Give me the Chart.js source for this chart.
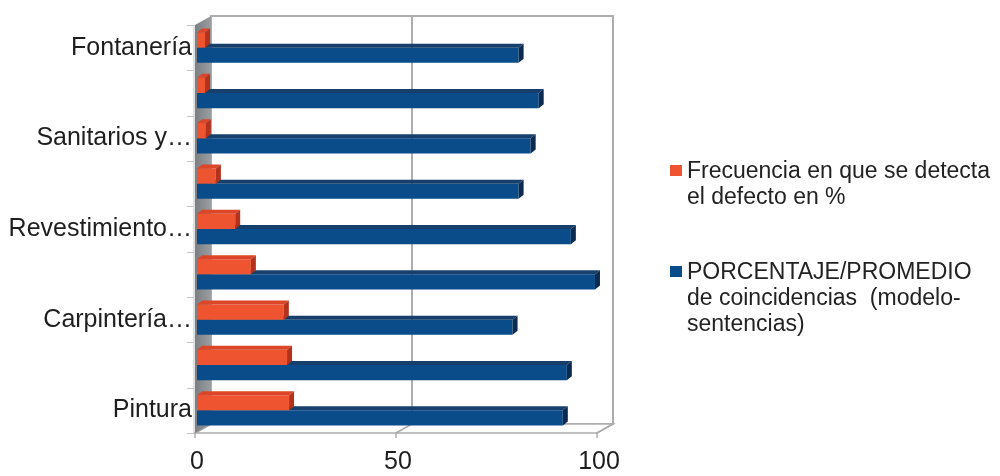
<!DOCTYPE html>
<html>
<head>
<meta charset="utf-8">
<script src="https://cdn.jsdelivr.net/npm/chart.js@4/dist/chart.umd.min.js"></script>
<style>
  body { margin: 0; background: #fff; }
  #wrap { position: relative; width: 1000px; height: 476px; }
  #legend { position: absolute; left: 0; top: 0; font-family: "Liberation Sans", Arial, sans-serif; color: #222; }
  .item { position: absolute; left: 687px; font-size: 23px; line-height: 26px; white-space: pre; }
  .box { position: absolute; left: -17px; top: 8px; width: 12px; height: 11px; }
</style>
</head>
<body>
<div id="wrap">
  <canvas id="chart" width="1000" height="476"></canvas>
  <div id="legend"></div>
</div>
<script>
// top to bottom, as drawn
const categories = ["Fontanería", "", "Sanitarios y…", "", "Revestimiento…", "", "Carpintería…", "", "Pintura"];
const frecuencia = [2, 2, 2.2, 4.7, 9.5, 13.4, 21.6, 22.4, 22.9];
const porcentaje = [80, 85, 83, 80, 93, 99, 78.5, 92, 91];
const xTicks = [0, 50, 100];

const seriesNames = [
  ["Frecuencia en que se detecta", "el defecto en %"],
  ["PORCENTAJE/PROMEDIO", "de coincidencias  (modelo-", "sentencias)"]
];
const frontColors = ["#ef5430", "#0a4c89"];
const topColors = ["#dc4528", "#163f6c"];
const sideColors = ["#b3321d", "#0d2a50"];
const legendTops = [157, 258];

const FONT = "'Liberation Sans', Arial, sans-serif";

// fake 3D: walls, floor, and bar faces
const depth3d = {
  id: "depth3d",
  beforeDatasetsDraw(chart) {
    const ctx = chart.ctx;
    const ca = chart.chartArea;
    const xs = chart.scales.x;
    const dx = 16, dy = -9;
    const fl = ca.left - 2, fr = ca.right - 2, ft = ca.top, fb = ca.bottom;
    const bl = fl + dx, br = fr + dx, bt = ft + dy, bb = fb + dy;
    ctx.save();
    // back wall
    ctx.strokeStyle = "#adadad";
    ctx.lineWidth = 2;
    ctx.strokeRect(bl, bt, br - bl, bb - bt);
    // back grid line
    const x50 = xs.getPixelForValue(50) - 2;
    ctx.beginPath();
    ctx.moveTo(x50 + dx, bt);
    ctx.lineTo(x50 + dx, bb);
    ctx.stroke();
    // floor
    ctx.lineWidth = 1.5;
    ctx.fillStyle = "#fff";
    ctx.beginPath();
    ctx.moveTo(fl, fb); ctx.lineTo(fr, fb); ctx.lineTo(br, bb); ctx.lineTo(bl, bb); ctx.closePath();
    ctx.fill(); ctx.stroke();
    xTicks.forEach(v => {
      const px = xs.getPixelForValue(v) - 2;
      ctx.beginPath();
      ctx.moveTo(px, fb + 5); ctx.lineTo(px, fb); ctx.lineTo(px + dx, bb);
      ctx.stroke();
    });
    // left wall
    const g = ctx.createLinearGradient(fl, 0, bl, 0);
    g.addColorStop(0, "#7b7f83");
    g.addColorStop(1, "#9a9ea1");
    ctx.fillStyle = g;
    ctx.beginPath();
    ctx.moveTo(fl, ft); ctx.lineTo(bl, bt); ctx.lineTo(bl, bb); ctx.lineTo(fl, fb); ctx.closePath();
    ctx.fill();
    ctx.strokeStyle = "#c4c4c4";
    ctx.lineWidth = 1;
    ctx.beginPath();
    ctx.moveTo(fl - 1, ft); ctx.lineTo(fl - 1, fb);
    ctx.stroke();
    // category ticks
    const step = (fb - ft) / categories.length;
    for (let i = 0; i <= categories.length; i++) {
      const y = Math.round(ft + i * step) + 0.5;
      ctx.beginPath();
      ctx.moveTo(fl - 8, y); ctx.lineTo(fl - 1, y);
      ctx.stroke();
    }
    ctx.restore();
  },
  afterDatasetDraw(chart, args) {
    const ctx = chart.ctx;
    const d = 5, e = 4;
    const i = args.index;
    ctx.save();
    args.meta.data.forEach(bar => {
      const left = bar.base, right = bar.x;
      const top = bar.y - bar.height / 2, bottom = bar.y + bar.height / 2;
      ctx.fillStyle = topColors[i];
      ctx.beginPath();
      ctx.moveTo(left, top); ctx.lineTo(left + d, top - e); ctx.lineTo(right + d, top - e); ctx.lineTo(right, top);
      ctx.closePath(); ctx.fill();
      ctx.fillStyle = sideColors[i];
      ctx.beginPath();
      ctx.moveTo(right, top); ctx.lineTo(right + d, top - e); ctx.lineTo(right + d, bottom - e); ctx.lineTo(right, bottom);
      ctx.closePath(); ctx.fill();
    });
    ctx.restore();
  }
};

const data = {
  labels: categories,
  datasets: [
    { label: seriesNames[0].join(" "), data: frecuencia, backgroundColor: frontColors[0] },
    { label: seriesNames[1].join(" "), data: porcentaje, backgroundColor: frontColors[1] }
  ]
};

new Chart(document.getElementById("chart"), {
  type: "bar",
  data: data,
  options: {
    indexAxis: "y",
    responsive: false,
    animation: false,
    layout: { padding: { top: 25, right: 401, left: 0, bottom: 0 } },
    datasets: { bar: { categoryPercentage: 0.67, barPercentage: 1 } },
    plugins: { legend: { display: false }, tooltip: { enabled: false } },
    scales: {
      x: {
        min: 0, max: 100,
        afterBuildTicks: s => { s.ticks = xTicks.map(v => ({ value: v })); },
        grid: { display: false, drawTicks: false },
        border: { display: false },
        ticks: { padding: 14, color: "#1e1e1e", font: { family: FONT, size: 25 }, maxRotation: 0 },
        afterFit: s => { s.height = 43; }
      },
      y: {
        grid: { display: false, drawTicks: false },
        border: { display: false },
        ticks: { autoSkip: false, padding: 5, color: "#1e1e1e", font: { family: FONT, size: 25 } },
        afterFit: s => { s.width = 197; }
      }
    }
  },
  plugins: [depth3d]
});

// legend
const legend = document.getElementById("legend");
seriesNames.forEach((lines, i) => {
  const item = document.createElement("div");
  item.className = "item";
  item.style.top = legendTops[i] + "px";
  const box = document.createElement("div");
  box.className = "box";
  box.style.background = frontColors[i];
  item.appendChild(box);
  item.appendChild(document.createTextNode(lines.join("\n")));
  legend.appendChild(item);
});
</script>
</body>
</html>
